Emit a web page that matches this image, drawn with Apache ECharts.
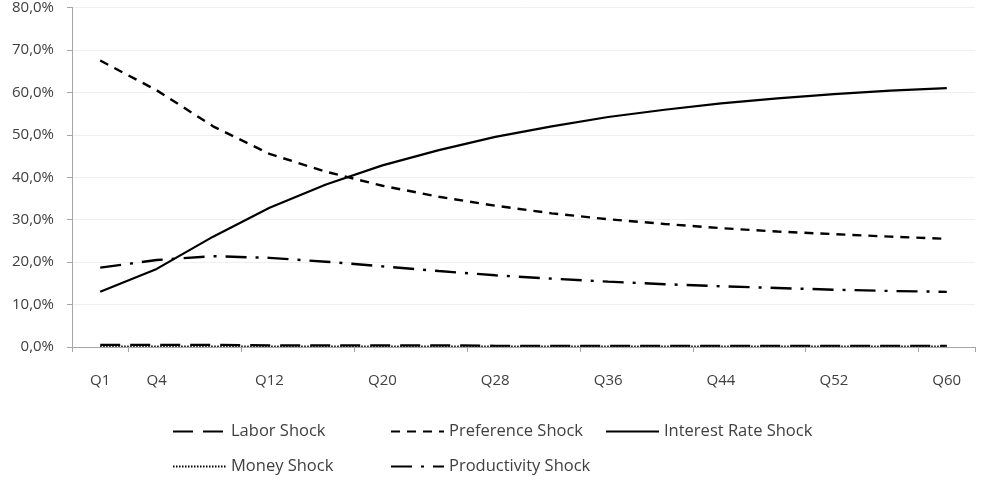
<!DOCTYPE html>
<html>
<head>
<meta charset="utf-8">
<script src="https://cdn.jsdelivr.net/npm/echarts@6/dist/echarts.min.js"></script>
<style>
  html, body { margin: 0; padding: 0; background: #fff; }
  #chart { width: 990px; height: 483px; }
</style>
</head>
<body>
<div id="chart"></div>
<script>
// quarters shown on the chart
var quarters = ['Q1', 'Q4', 'Q8', 'Q12', 'Q16', 'Q20', 'Q24', 'Q28', 'Q32', 'Q36', 'Q40', 'Q44', 'Q48', 'Q52', 'Q56', 'Q60'];

// shares in percent
var laborShock        = [0.5, 0.5, 0.5, 0.4, 0.4, 0.4, 0.4, 0.3, 0.3, 0.3, 0.3, 0.3, 0.3, 0.3, 0.3, 0.3];
var preferenceShock   = [67.5, 60.5, 52.0, 45.5, 41.3, 38.0, 35.4, 33.3, 31.5, 30.1, 29.0, 28.0, 27.2, 26.6, 26.0, 25.5];
var interestRateShock = [13.0, 18.4, 26.0, 32.8, 38.3, 42.8, 46.4, 49.5, 52.0, 54.2, 55.9, 57.4, 58.6, 59.6, 60.4, 61.0];
var moneyShock        = [0.2, 0.2, 0.2, 0.2, 0.2, 0.2, 0.2, 0.2, 0.2, 0.2, 0.2, 0.2, 0.2, 0.2, 0.2, 0.2];
var productivityShock = [18.7, 20.5, 21.4, 21.0, 20.1, 19.0, 17.9, 16.9, 16.1, 15.4, 14.8, 14.3, 13.9, 13.5, 13.2, 13.0];

var chart = echarts.init(document.getElementById('chart'));

var fontFamily = 'Open Sans, Noto Sans, sans-serif';

function makeSeries(name, data, dash, width) {
  return {
    name: name,
    type: 'line',
    data: data,
    symbol: 'none',
    smooth: false,
    animation: false,
    itemStyle: { color: '#000' },
    lineStyle: { color: '#000', width: width, type: dash }
  };
}

function makeLegend(name, left, top) {
  return {
    data: [name],
    left: left,
    top: top,
    itemWidth: 53,
    itemHeight: 12,
    itemStyle: { opacity: 0 },
    textStyle: { color: '#404040', fontSize: 16.5, fontFamily: fontFamily }
  };
}

var option = {
  backgroundColor: '#fff',
  grid: { left: 72, right: 15, top: 2, bottom: 136, containLabel: false },
  legend: [
    makeLegend('Labor Shock', 167, 418),
    makeLegend('Preference Shock', 385, 418),
    makeLegend('Interest Rate Shock', 600, 418),
    makeLegend('Money Shock', 167, 453),
    makeLegend('Productivity Shock', 385, 453)
  ],
  xAxis: {
    type: 'category',
    data: quarters,
    boundaryGap: true,
    axisLine: { lineStyle: { color: '#a6a6a6', width: 1 } },
    axisTick: { show: true, length: 5, lineStyle: { color: '#a6a6a6' } },
    axisLabel: {
      color: '#404040',
      fontSize: 15,
      fontFamily: fontFamily,
      margin: 26,
      interval: function (i) { return i === 0 || i % 2 === 1; }
    }
  },
  yAxis: {
    type: 'value',
    min: 0,
    max: 80,
    interval: 10,
    axisLine: { show: true, lineStyle: { color: '#a6a6a6' } },
    axisTick: { show: true, length: 5, lineStyle: { color: '#a6a6a6' } },
    splitLine: { lineStyle: { color: '#efefef' } },
    axisLabel: {
      color: '#404040',
      fontSize: 15,
      fontFamily: fontFamily,
      margin: 18,
      formatter: function (v) { return v.toFixed(1).replace('.', ',') + '%'; }
    }
  },
  series: [
    makeSeries('Labor Shock', laborShock, [20, 10], 2.2),
    makeSeries('Preference Shock', preferenceShock, [9, 7], 2.4),
    makeSeries('Interest Rate Shock', interestRateShock, 'solid', 2.2),
    makeSeries('Money Shock', moneyShock, [1.5, 1.5], 1.5),
    makeSeries('Productivity Shock', productivityShock, [21, 9, 3, 9], 2.4)
  ]
};

chart.setOption(option);
</script>
</body>
</html>
